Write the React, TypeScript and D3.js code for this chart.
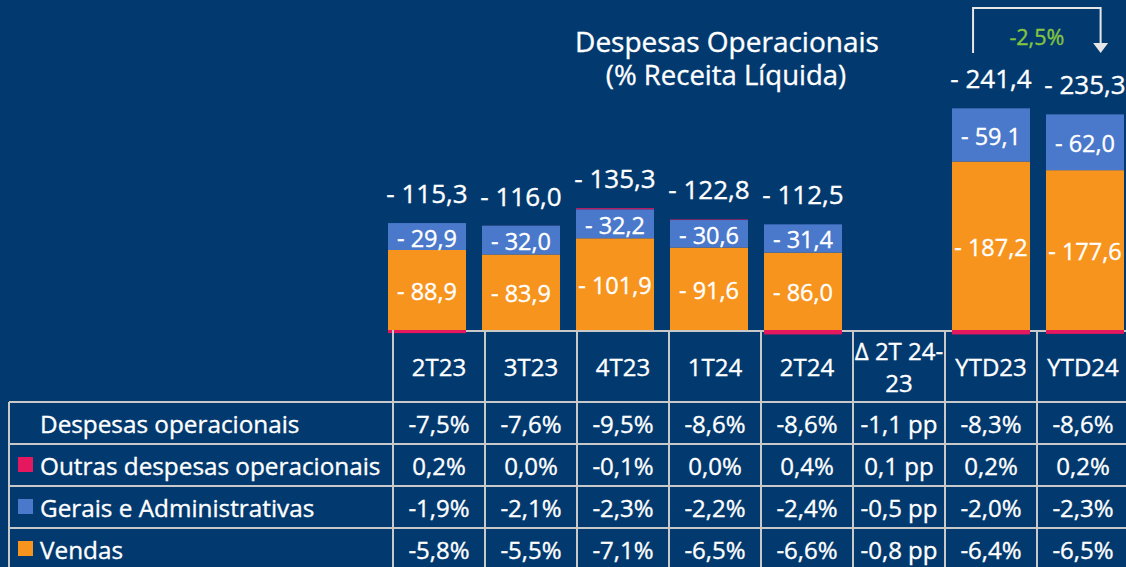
import React from 'react';
import * as d3 from 'd3';

// periods / table columns
const periods = ['2T23', '3T23', '4T23', '1T24', '2T24', 'Δ', 'YTD23', 'YTD24'];
const headerLabels = [['2T23'], ['3T23'], ['4T23'], ['1T24'], ['2T24'], ['Δ 2T 24-', '23'], ['YTD23'], ['YTD24']];

// bar values (R$ mi)
const vendas = [-88.9, -83.9, -101.9, -91.6, -86.0, 0, -187.2, -177.6];
const gerais = [-29.9, -32.0, -32.2, -30.6, -31.4, 0, -59.1, -62.0];
const outras = [3.5, -0.1, -1.2, -0.6, 4.9, 0, 4.9, 4.3];
const totals = [-115.3, -116.0, -135.3, -122.8, -112.5, null, -241.4, -235.3];

// table rows
const rowLabels = ['Despesas operacionais', 'Outras despesas operacionais', 'Gerais e Administrativas', 'Vendas'];
const despesasPct = ['-7,5%', '-7,6%', '-9,5%', '-8,6%', '-8,6%', '-1,1 pp', '-8,3%', '-8,6%'];
const outrasPct = ['0,2%', '0,0%', '-0,1%', '0,0%', '0,4%', '0,1 pp', '0,2%', '0,2%'];
const geraisPct = ['-1,9%', '-2,1%', '-2,3%', '-2,2%', '-2,4%', '-0,5 pp', '-2,0%', '-2,3%'];
const vendasPct = ['-5,8%', '-5,5%', '-7,1%', '-6,5%', '-6,6%', '-0,8 pp', '-6,4%', '-6,5%'];
const growthLabel = '-2,5%';

const W = 1126;
const H = 567;
const BG = '#023a6f';
const FONT = '"Open Sans", "Noto Sans", sans-serif';
const colors: Record<string, string> = { vendas: '#f7941e', gerais: '#4a78ca', outras: '#e5175f' };
const legendColors = [null, colors.outras, colors.gerais, colors.vendas];
const GRID = '#c9c9c9';

const fmt = (v: number) => '- ' + d3.format('.1f')(Math.abs(v)).replace('.', ',');

// white text, slightly thickened to match the reference rendering
const txt = { fill: '#fff', stroke: '#fff', strokeWidth: 0.35 };

const App: React.FC = () => {
  const x = d3.scaleBand<string>().domain(periods).range([380, 1132]).paddingInner(0.17).paddingOuter(0.085);
  const y = d3.scaleLinear().domain([0, -100]).range([330, 240]);
  const col = d3.scaleBand<string>().domain(periods).range([393, 1129]);

  const rows = periods.map((p, i) => ({ period: p, vendas: vendas[i], gerais: gerais[i], outras: outras[i] }));
  const stack = d3.stack<any>().keys(['vendas', 'gerais', 'outras']).offset(d3.stackOffsetDiverging)(rows);

  const tableTop = 330;
  const headerBottom = 402;
  const rowH = 42;
  const tableRows = [despesasPct, outrasPct, geraisPct, vendasPct];

  const bw = x.bandwidth();
  const ytd23 = x('YTD23')!;
  const ytd24 = x('YTD24')!;
  const arrowTop = 8;
  const arrowLeft = ytd23 + bw * 0.27;
  const arrowRight = ytd24 + bw * 0.7;
  const arrowBottom = 53;

  return (
    <svg width={W} height={H} style={{ position: 'absolute', left: 0, top: 0, background: BG }} fontFamily={FONT}>
      <rect x={0} y={0} width={W} height={H} fill={BG} />

      {/* title */}
      <text x={727} y={52} textAnchor="middle" fontSize={28} {...txt}>Despesas Operacionais</text>
      <text x={726} y={85} textAnchor="middle" fontSize={27.5} {...txt}>(% Receita Líquida)</text>

      {/* axis line */}
      <line x1={col('2T23')!} x2={W} y1={tableTop + 1} y2={tableTop + 1} stroke={GRID} strokeWidth={2} />

      {/* bars */}
      {stack.map(s => (
        <g key={s.key} fill={colors[s.key]}>
          {s.map((d, i) => {
            if (periods[i] === 'Δ') return null;
            const y0 = y(d[0]);
            const y1 = y(d[1]);
            return <rect key={i} x={x(periods[i])} width={bw} y={Math.min(y0, y1)} height={Math.abs(y1 - y0)} />;
          })}
        </g>
      ))}

      {/* segment labels */}
      {stack.filter(s => s.key !== 'outras').map(s => (
        <g key={'l' + s.key}>
          {s.map((d, i) => {
            if (periods[i] === 'Δ') return null;
            const v = (s.key === 'vendas' ? vendas : gerais)[i];
            return (
              <text key={i} x={x(periods[i])! + bw / 2} y={(y(d[0]) + y(d[1])) / 2 + 1} textAnchor="middle"
                dominantBaseline="central" fontSize={23.5} {...txt}>{fmt(v)}</text>
            );
          })}
        </g>
      ))}

      {/* totals */}
      {totals.map((t, i) => {
        if (t === null) return null;
        const top = Math.min(...stack.map(s => y(s[i][0])), ...stack.map(s => y(s[i][1])));
        return (
          <text key={'t' + i} x={x(periods[i])! + bw / 2} y={top - 20} textAnchor="middle" fontSize={26} {...txt}>{fmt(t)}</text>
        );
      })}

      {/* growth arrow */}
      <path d={`M${arrowLeft},${arrowBottom}V${arrowTop}H${arrowRight}V${arrowBottom - 10}`} fill="none" stroke="#e6e6e6" strokeWidth={2} />
      <path d={`M${arrowRight - 7.5},${arrowBottom - 10}H${arrowRight + 7.5}L${arrowRight},${arrowBottom}Z`} fill="#e6e6e6" />
      <text x={(arrowLeft + arrowRight) / 2} y={45} textAnchor="middle" fill="#84c441" stroke="#84c441" strokeWidth={0.4} fontSize={21.5}>{growthLabel}</text>

      {/* table grid */}
      <g stroke={GRID} strokeWidth={2}>
        {periods.map(p => (
          <line key={'v' + p} x1={col(p)!} x2={col(p)!} y1={tableTop} y2={H} />
        ))}
        <line x1={col('YTD24')! + col.bandwidth()} x2={col('YTD24')! + col.bandwidth()} y1={tableTop} y2={H} />
        <line x1={9} x2={9} y1={headerBottom} y2={H} />
        {d3.range(rowLabels.length + 1).map(r => (
          <line key={'h' + r} x1={9} x2={W} y1={headerBottom + r * rowH} y2={headerBottom + r * rowH} />
        ))}
      </g>

      {/* header */}
      {headerLabels.map((lines, i) => (
        <text key={'hd' + i} x={col(periods[i])! + col.bandwidth() / 2} textAnchor="middle" fontSize={24} {...txt}>
          {lines.map((ln, k) => (
            <tspan key={k} x={col(periods[i])! + col.bandwidth() / 2}
              y={(tableTop + headerBottom) / 2 + (k - (lines.length - 1) / 2) * 32} dominantBaseline="central">{ln}</tspan>
          ))}
        </text>
      ))}

      {/* rows */}
      {rowLabels.map((lbl, r) => {
        const cy = headerBottom + r * rowH + rowH / 2;
        return (
          <g key={'r' + r}>
            {legendColors[r] && <rect x={18} y={cy - 8} width={15} height={15} fill={legendColors[r]!} />}
            <text x={40} y={cy} dominantBaseline="central" fontSize={24.3} {...txt}>{lbl}</text>
            {tableRows[r].map((v, i) => (
              <text key={i} x={col(periods[i])! + col.bandwidth() / 2} y={cy} textAnchor="middle"
                dominantBaseline="central" fontSize={24} {...txt}>{v}</text>
            ))}
          </g>
        );
      })}
    </svg>
  );
};

export default App;
